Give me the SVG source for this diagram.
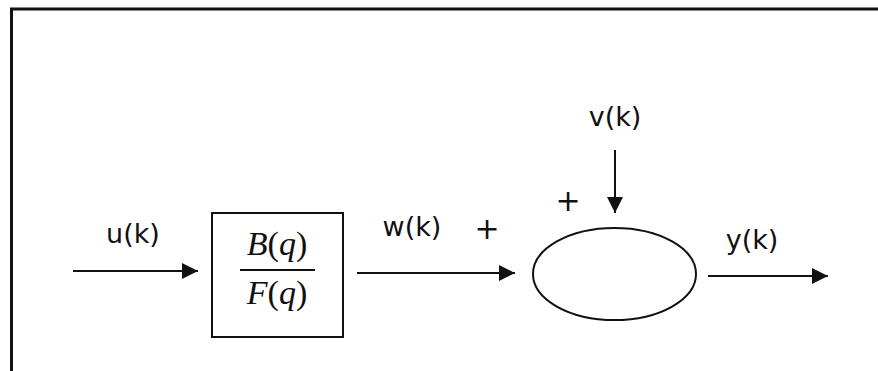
<svg xmlns="http://www.w3.org/2000/svg" width="878" height="371" viewBox="0 0 878 371">
<style>
.lbl{font-family:"DejaVu Sans","Noto Sans","Liberation Sans",sans-serif;font-size:27px;fill:#111;text-anchor:middle}
.pl{font-family:"DejaVu Sans","Liberation Sans",sans-serif;font-size:30px;fill:#111;text-anchor:middle}
.math{font-family:"Liberation Serif","DejaVu Serif",serif;font-size:34px;fill:#111;text-anchor:middle}
.it{font-style:italic}
.ln{stroke:#111;stroke-width:2;fill:none}
</style>
<defs>
<marker id="ah" viewBox="0 0 10 10" refX="10" refY="5" markerWidth="17" markerHeight="16" markerUnits="userSpaceOnUse" orient="auto">
<path d="M0,0 L10,5 L0,10 z" fill="#111"/>
</marker>
</defs>
<rect width="878" height="371" fill="#fff"/>
<path d="M11.5,371 V9 H878" stroke="#111" stroke-width="3" fill="none"/>
<g id="block">
<rect x="212" y="213" width="131" height="124" class="ln" stroke-width="1.5"/>
<text x="277" y="255" class="math"><tspan class="it">B</tspan>(<tspan class="it">q</tspan>)</text>
<line x1="240" y1="270" x2="315" y2="270" stroke="#111" stroke-width="1.8"/>
<text x="277" y="304" class="math"><tspan class="it">F</tspan>(<tspan class="it">q</tspan>)</text>
</g>
<g id="sum">
<ellipse cx="614.5" cy="274" rx="81.5" ry="46" class="ln" stroke-width="3"/>
<text x="487" y="239" class="pl">+</text>
<text x="568" y="211" class="pl">+</text>
</g>
<g id="labels">
<text x="133" y="243" class="lbl">u(k)</text>
<text x="412" y="236" class="lbl">w(k)</text>
<text x="615" y="126" class="lbl">v(k)</text>
<text x="752" y="249" class="lbl">y(k)</text>
</g>
<g id="connectors">
<line x1="73" y1="271" x2="198" y2="271" class="ln" marker-end="url(#ah)"/>
<line x1="357" y1="273" x2="515" y2="273" class="ln" marker-end="url(#ah)"/>
<line x1="615" y1="150" x2="615" y2="213" class="ln" marker-end="url(#ah)"/>
<line x1="708" y1="276" x2="828" y2="276" class="ln" marker-end="url(#ah)"/>
</g>
</svg>
